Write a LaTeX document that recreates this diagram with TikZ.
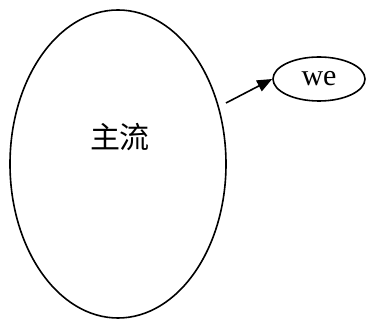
\documentclass[tikz,border=0pt]{standalone}
\usepackage{fontspec}
\setmainfont{Liberation Serif}
\newfontfamily\cjk{Noto Sans CJK SC}[BoldFont={Noto Sans CJK SC}]
\usetikzlibrary{shapes.geometric,arrows.meta}
\tikzset{
  oval/.style={draw=black, line width=1.6pt, ellipse, inner sep=0pt},
  lbl/.style={inner sep=0pt, font=\fontsize{30}{32}\selectfont},
  conn/.style={line width=1.6pt, -{Triangle[length=15pt,width=12pt]}}
}
\begin{document}
\begin{tikzpicture}[x=1pt,y=-1pt]
\useasboundingbox (0,0) rectangle (368,320);
\node[oval, minimum width=216pt, minimum height=308pt] (big) at (118,164) {};
\node[lbl, font=\fontsize{30}{32}\selectfont\cjk] (bigtext) at (120,137) {主流};
\node[oval, minimum width=92pt, minimum height=44pt, lbl] (small) at (319,79) {we};
\coordinate (a1) at (226,103);
\draw[conn] (a1) -- (small.west);
\end{tikzpicture}
\end{document}
